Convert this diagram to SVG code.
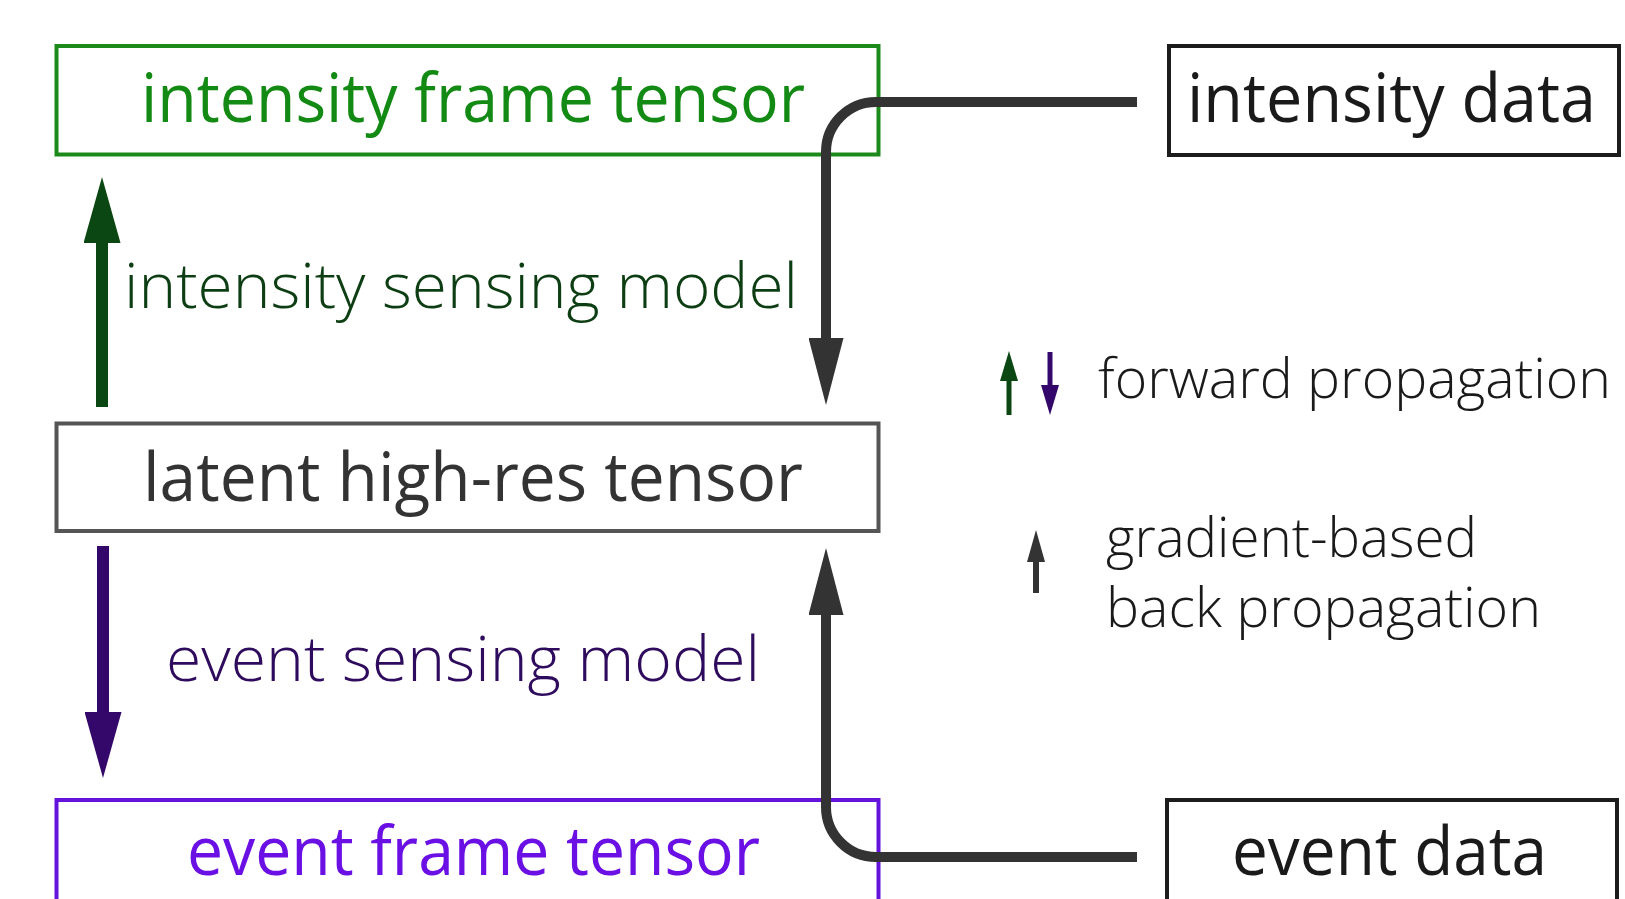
<svg xmlns="http://www.w3.org/2000/svg" width="1625" height="899" viewBox="0 0 1625 899">
  <style>
    .box { fill: #ffffff; stroke-width: 4; }
    .lbl { font-family: "Open Sans", "Noto Sans", "Liberation Sans", sans-serif; }
    .big { font-size: 68px; font-weight: 400; }
    .mid { font-size: 62px; font-weight: 300; }
    .leg { font-size: 55px; font-weight: 300; fill: #1a1a1a; }
    .conn { fill: none; stroke: #333333; stroke-width: 10; }
  </style>
  <defs>
    <marker id="head-gray" markerUnits="userSpaceOnUse" viewBox="0 0 67 35" refX="0" refY="17.5" markerWidth="67" markerHeight="35" orient="auto">
      <path d="M0,0 L67,17.5 L0,35 z" fill="#333333"/>
    </marker>
    <marker id="head-green" markerUnits="userSpaceOnUse" viewBox="0 0 66 37" refX="0" refY="18.5" markerWidth="66" markerHeight="37" orient="auto">
      <path d="M0,0 L66,18.5 L0,37 z" fill="#0b4712"/>
    </marker>
    <marker id="head-purple" markerUnits="userSpaceOnUse" viewBox="0 0 66 37" refX="0" refY="18.5" markerWidth="66" markerHeight="37" orient="auto">
      <path d="M0,0 L66,18.5 L0,37 z" fill="#33086a"/>
    </marker>
    <marker id="head-green-s" markerUnits="userSpaceOnUse" viewBox="0 0 30 18" refX="0" refY="9" markerWidth="30" markerHeight="18" orient="auto">
      <path d="M0,0 L30,9 L0,18 z" fill="#0b4712"/>
    </marker>
    <marker id="head-purple-s" markerUnits="userSpaceOnUse" viewBox="0 0 30 18" refX="0" refY="9" markerWidth="30" markerHeight="18" orient="auto">
      <path d="M0,0 L30,9 L0,18 z" fill="#33086a"/>
    </marker>
    <marker id="head-gray-s" markerUnits="userSpaceOnUse" viewBox="0 0 32 18" refX="0" refY="9" markerWidth="32" markerHeight="18" orient="auto">
      <path d="M0,0 L32,9 L0,18 z" fill="#333333"/>
    </marker>
  </defs>

  <rect width="1625" height="899" fill="#ffffff"/>

  <!-- tensor nodes -->
  <g id="intensity-frame-tensor">
    <rect class="box" x="56.5" y="46" width="822" height="108.5" stroke="#1b8a1b"/>
    <text class="lbl big" x="141" y="122" textLength="664" lengthAdjust="spacingAndGlyphs" fill="#138a13">intensity frame tensor</text>
  </g>

  <g id="latent-high-res-tensor">
    <rect class="box" x="56.5" y="423.5" width="822" height="107.5" stroke="#555555"/>
    <text class="lbl big" x="143" y="501" textLength="660" lengthAdjust="spacingAndGlyphs" fill="#333333">latent high-res tensor</text>
  </g>

  <g id="event-frame-tensor">
    <rect class="box" x="56.5" y="800" width="822" height="200" stroke="#6512dc"/>
    <text class="lbl big" x="187" y="875" textLength="573" lengthAdjust="spacingAndGlyphs" fill="#6a10e4">event frame tensor</text>
  </g>

  <!-- data nodes -->
  <g id="intensity-data">
    <rect class="box" x="1169" y="46" width="450" height="109" stroke="#1c1c1c"/>
    <text class="lbl big" x="1187" y="122" textLength="409" lengthAdjust="spacingAndGlyphs" fill="#1a1a1a">intensity data</text>
  </g>

  <g id="event-data">
    <rect class="box" x="1167" y="800" width="450" height="200" stroke="#1c1c1c"/>
    <text class="lbl big" x="1232" y="875" textLength="315" lengthAdjust="spacingAndGlyphs" fill="#1a1a1a">event data</text>
  </g>

  <!-- model labels -->
  <g id="intensity-sensing-model">
    <text class="lbl mid" x="124" y="308" textLength="674" lengthAdjust="spacingAndGlyphs" fill="#0d3d12">intensity sensing model</text>
  </g>
  <g id="event-sensing-model">
    <text class="lbl mid" x="166" y="681" textLength="594" lengthAdjust="spacingAndGlyphs" fill="#2e0b5c">event sensing model</text>
  </g>

  <!-- connectors -->
  <g id="connectors">
    <path class="conn" d="M1137,102 H876 A50,50 0 0 0 826,152 V338" marker-end="url(#head-gray)"/>
    <path class="conn" d="M1137,857 H876 A50,50 0 0 1 826,807 V615" marker-end="url(#head-gray)"/>
    <path d="M102,407 V243" fill="none" stroke="#0b4712" stroke-width="12" marker-end="url(#head-green)"/>
    <path d="M103,546 V712" fill="none" stroke="#33086a" stroke-width="12" marker-end="url(#head-purple)"/>
  </g>

  <!-- legend -->
  <g id="legend-forward">
    <path d="M1009,415 V381" fill="none" stroke="#0b4712" stroke-width="5" marker-end="url(#head-green-s)"/>
    <path d="M1050,352 V385" fill="none" stroke="#33086a" stroke-width="5" marker-end="url(#head-purple-s)"/>
    <text class="lbl leg" x="1098" y="398" textLength="513" lengthAdjust="spacingAndGlyphs">forward propagation</text>
  </g>
  <g id="legend-backward">
    <path d="M1036,593 V562" fill="none" stroke="#333333" stroke-width="6" marker-end="url(#head-gray-s)"/>
    <text class="lbl leg" x="1106" y="557" textLength="371" lengthAdjust="spacingAndGlyphs">gradient-based</text>
    <text class="lbl leg" x="1106" y="627" textLength="435" lengthAdjust="spacingAndGlyphs">back propagation</text>
  </g>
</svg>
